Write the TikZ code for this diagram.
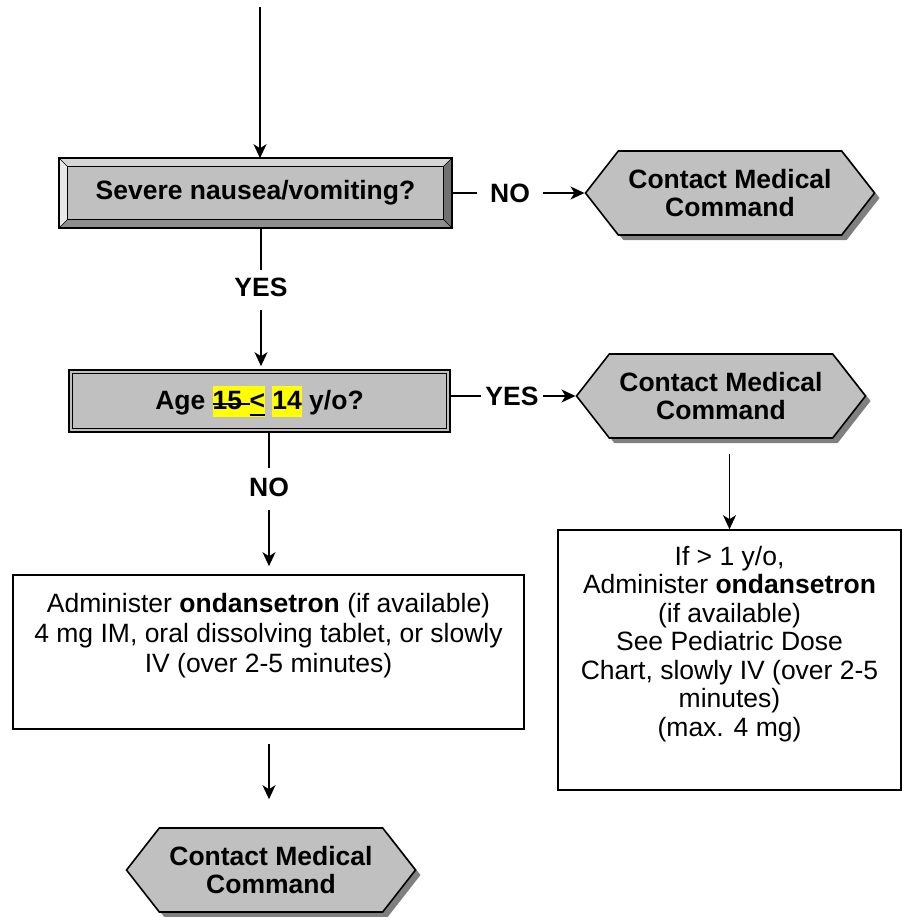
\documentclass[tikz,border=0pt]{standalone}
\usepackage{fontspec}
\setmainfont{Liberation Sans}
\usetikzlibrary{positioning,calc,shapes.symbols,shadows,arrows.meta}
\definecolor{boxgray}{HTML}{C0C0C0}
\definecolor{shadegray}{HTML}{808080}
\definecolor{bevtop}{HTML}{D6D6D6}
\definecolor{bevleft}{HTML}{E8E8E8}
\definecolor{bevbottom}{HTML}{8E8E8E}
\definecolor{bevright}{HTML}{707070}
\definecolor{hlyellow}{HTML}{FFFF00}
\newcommand{\hlbox}[1]{{\setlength{\fboxsep}{0pt}\colorbox{hlyellow}{\vrule height 24pt depth 7pt width 0pt #1}}}
\newcommand{\strk}[1]{{\setbox0\hbox{#1}\rlap{\rule[5pt]{\wd0}{1.8pt}}\box0}}
\newcommand{\undl}[1]{{\setbox0\hbox{#1}\rlap{\rule[-6pt]{\wd0}{1.8pt}}\box0}}
\begin{document}
\begin{tikzpicture}[x=1pt, y=-1pt, line width=1.6pt,
every node/.style={font=\fontsize{26.5}{28.5}\selectfont},
decision/.style={rectangle, draw, fill=boxgray, inner sep=0pt, font=\fontsize{26.5}{28.5}\selectfont\bfseries},
hexa/.style={signal, signal to=west and east, signal pointer angle=104, draw, fill=boxgray, inner sep=0pt,
  minimum width=289pt, minimum height=84pt, align=center, font=\fontsize{26.5}{28}\selectfont\bfseries,
  drop shadow={shadow xshift=5pt, shadow yshift=-5pt, fill=shadegray, opacity=1}},
actbox/.style={rectangle, draw, fill=white, inner sep=0pt},
lbl/.style={inner sep=4pt, font=\fontsize{26.5}{28.5}\selectfont\bfseries},
arr/.style={-{Stealth[length=14pt, width=13pt, inset=4pt]}}]

\useasboundingbox (0,0) rectangle (906,917);

\coordinate (start) at (260,7);
\node[decision, minimum width=391pt, minimum height=68pt] (nausea) at (255.5,193) {Severe nausea/vomiting?};
\fill[bevtop] (nausea.north west) -- (nausea.north east) -- ($(nausea.north east)+(-8,8)$) -- ($(nausea.north west)+(8,8)$) -- cycle;
\fill[bevleft] (nausea.north west) -- ($(nausea.north west)+(8,8)$) -- ($(nausea.south west)+(8,-8)$) -- (nausea.south west) -- cycle;
\fill[bevbottom] (nausea.south west) -- (nausea.south east) -- ($(nausea.south east)+(-8,-8)$) -- ($(nausea.south west)+(8,-8)$) -- cycle;
\fill[bevright] (nausea.north east) -- (nausea.south east) -- ($(nausea.south east)+(-8,-8)$) -- ($(nausea.north east)+(-8,8)$) -- cycle;
\draw (nausea.north west) rectangle (nausea.south east);
\draw[line width=1.2pt] ($(nausea.north west)+(8,8)$) rectangle ($(nausea.south east)+(-8,-8)$);
\draw[line width=0.6pt] (nausea.north west) -- ++(8,8) (nausea.north east) -- ++(-8,8)
  (nausea.south west) -- ++(8,-8) (nausea.south east) -- ++(-8,-8);

\node[decision, minimum width=381pt, minimum height=62pt] (age) at (259.5,401) {Age \hlbox{\strk{15\ }\undl{<}} \hlbox{14} y/o?};
\draw[line width=1.2pt] ($(age.north west)+(4,4)$) rectangle ($(age.south east)+(-4,-4)$);

\node[hexa] (contact1) at (730,193) {Contact Medical\\Command};
\node[hexa] (contact2) at (721,396) {Contact Medical\\Command};
\node[hexa] (contact3) at (271,870) {Contact Medical\\Command};

\node[actbox] (peds) at (729.5,660) {\parbox[c][260pt][t]{343pt}{\centering\fontsize{26.5}{28.5}\selectfont
  \rule{0pt}{35pt}If > 1 y/o,\\ Administer \textbf{ondansetron}\\ (if available)\\ See Pediatric Dose\\
  Chart, slowly IV (over 2-5\\ minutes)\\ (max. 4 mg)}};
\node[actbox] (adult) at (268.5,652) {\parbox[c][154pt][t]{511pt}{\centering\fontsize{26.5}{30}\selectfont
  \rule{0pt}{37pt}Administer \textbf{ondansetron} (if available)\\ 4 mg IM, oral dissolving tablet, or slowly\\
  IV (over 2-5 minutes)}};

\node[lbl] (no1) at (510,193) {NO};
\node[lbl] (yes1) at (261,287) {YES};
\node[lbl] (yes2) at (512,396) {YES};
\node[lbl] (no2) at (269,487) {NO};

\draw[arr] (start) -- (start |- nausea.north);
\draw[shorten >=8pt] (nausea.east) -- (no1.west);
\draw[arr, shorten <=8pt] (no1.east) -- (contact1.west);
\draw[shorten >=3pt] (nausea.south -| yes1) -- (yes1.north);
\draw[arr, shorten <=9pt, shorten >=3pt] (yes1.south) -- (yes1 |- age.north);
\draw (age.east |- yes2) -- (yes2.west);
\draw[arr] (yes2.east) -- (contact2.west);
\draw[arr, shorten <=15pt] (contact2.south -| peds.north) -- (peds.north);
\draw[shorten >=5pt] (age.south -| no2) -- (no2.north);
\draw[arr, shorten <=9pt, shorten >=8pt] (no2.south) -- (no2 |- adult.north);
\draw[arr, shorten <=14pt, shorten >=28pt] (adult.south -| no2) -- (no2 |- contact3.north);

\end{tikzpicture}
\end{document}
